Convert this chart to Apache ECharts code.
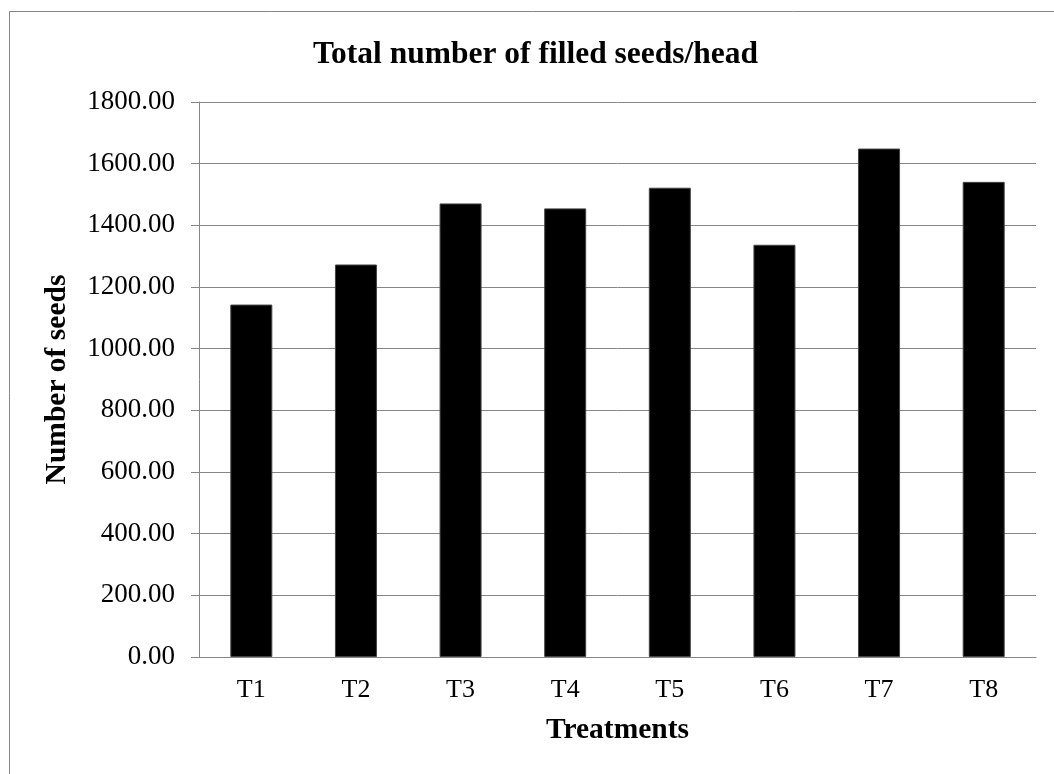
<!DOCTYPE html>
<html>
<head>
<meta charset="utf-8">
<script src="https://cdn.jsdelivr.net/npm/echarts@6/dist/echarts.min.js"></script>
<style>
  html, body { margin: 0; padding: 0; background: #fff; }
  #box { width: 1054px; height: 774px; }
</style>
</head>
<body>
<div id="box"></div>
<script>
// data
var categories = ['T1', 'T2', 'T3', 'T4', 'T5', 'T6', 'T7', 'T8'];
var seeds = [1143, 1273, 1471, 1455, 1522, 1337, 1649, 1541];
var yTicks = { min: 0, max: 1800, interval: 200 };

var serif = '"Liberation Serif", "Times New Roman", serif';
var gray = '#868686';

var myChart = echarts.init(document.getElementById('box'));
var option = {
	backgroundColor: '#fff',
	animation: false,
	title: {
		text: 'Total number of filled seeds/head',
		left: 308,
		top: 34,
		textStyle: {
			fontFamily: serif,
			fontSize: 31.5,
			fontWeight: 'bold',
			color: '#000'
		}
	},
	graphic: [
		{
			type: 'rect',
			shape: { x: 9.5, y: 11.5, width: 1100, height: 800 },
			style: { fill: 'none', stroke: gray, lineWidth: 1 }
		}
	],
	grid: {
		left: 199,
		right: 18,
		top: 102,
		bottom: 117,
		containLabel: false
	},
	xAxis: {
		type: 'category',
		data: categories,
		name: 'Treatments',
		nameLocation: 'middle',
		nameGap: 58,
		nameTextStyle: {
			fontFamily: serif,
			fontSize: 29.5,
			fontWeight: 'bold',
			color: '#000'
		},
		axisLine: { show: true, lineStyle: { color: gray, width: 1 } },
		axisTick: { show: false },
		axisLabel: {
			fontFamily: serif,
			fontSize: 26,
			color: '#000',
			margin: 20
		}
	},
	yAxis: {
		type: 'value',
		min: yTicks.min,
		max: yTicks.max,
		interval: yTicks.interval,
		name: 'Number of seeds',
		nameLocation: 'middle',
		nameGap: 127,
		nameTextStyle: {
			fontFamily: serif,
			fontSize: 29.5,
			fontWeight: 'bold',
			color: '#000'
		},
		axisLine: { show: true, lineStyle: { color: gray, width: 1 } },
		axisTick: { show: true, length: 8, lineStyle: { color: gray } },
		splitLine: { show: true, lineStyle: { color: gray, width: 1 } },
		axisLabel: {
			fontFamily: serif,
			fontSize: 27,
			color: '#000',
			margin: 24,
			formatter: function (v) { return v.toFixed(2); }
		}
	},
	series: [
		{
			name: 'Number of seeds',
			type: 'bar',
			barWidth: 42,
			itemStyle: {
				color: '#000',
				borderColor: '#444',
				borderWidth: 1
			},
			data: seeds
		}
	]
};
myChart.setOption(option);
</script>
</body>
</html>
